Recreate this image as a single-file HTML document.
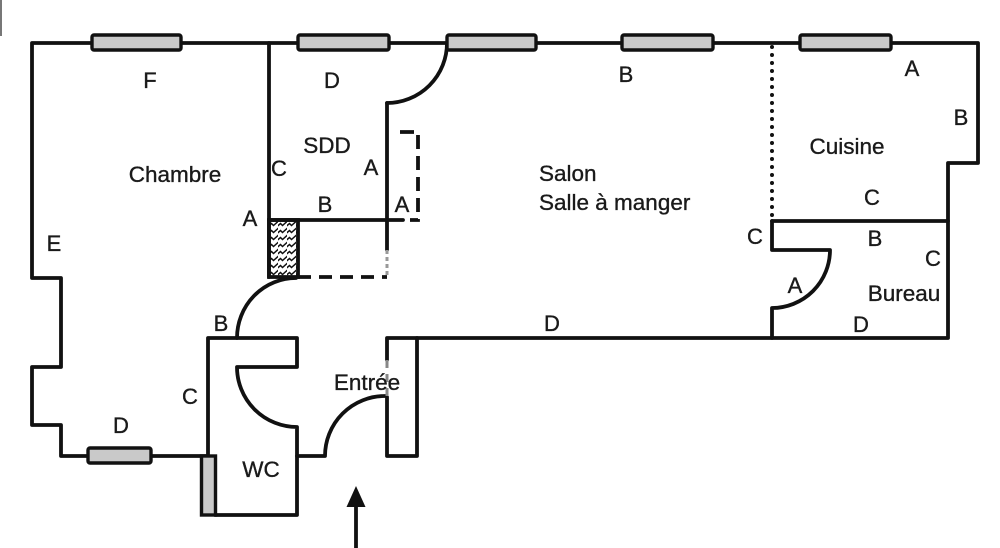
<!DOCTYPE html>
<html>
<head>
<meta charset="utf-8">
<style>
  html, body { margin:0; padding:0; background:#fff; }
  svg { display:block; }
  text { font-family: "Liberation Sans", Arial, sans-serif; fill:#1a1a1a; stroke:#1a1a1a; stroke-width:0.35; text-anchor:middle; }
</style>
</head>
<body>
<svg width="1000" height="548" viewBox="0 0 1000 548" xmlns="http://www.w3.org/2000/svg">
  <defs>
    <pattern id="hatch" x="269" y="220" width="9" height="7" patternUnits="userSpaceOnUse">
      <path d="M-1 6.5 L2.5 3.5 L4.5 5.5 L9.5 1" fill="none" stroke="#111" stroke-width="1.5"/>
    </pattern>
  </defs>
  <rect width="1000" height="548" fill="#fff"/>
  <!-- left page edge shadow -->
  <line x1="1" y1="0" x2="1" y2="36" stroke="#777" stroke-width="2"/>

  <g fill="none" stroke="#111" stroke-width="3.8" stroke-linejoin="round" stroke-linecap="round">
    <!-- outer perimeter -->
    <path d="M208 456 L61 456 L61 425 L32 425 L32 367 L61 367 L61 278 L32 278 L32 43 L978 43 L978 163 L948 163 L948 338 L387 338 L387 360"/>
    <!-- entry pillar -->
    <path d="M387 397 L387 456 L417 456 L417 338"/>
    <!-- Chambre / SDD wall -->
    <path d="M269 43 L269 277"/>
    <!-- SDD right wall -->
    <path d="M387 103 L387 250"/>
    <!-- SDD bottom wall B -->
    <path d="M269 220 L403 220"/>
    <!-- SDD door arc -->
    <path d="M447 43 A60 60 0 0 1 387 103"/>
    <!-- Chambre door arc -->
    <path d="M237 338 A59 60 0 0 1 296 278"/>
    <!-- WC -->
    <path d="M208 456 L208 338 L297 338 L297 367 L237 367 A60 60 0 0 0 297 427 L297 515 L215 515"/>
    <!-- Entry door -->
    <path d="M297 456 L325 456 A60 60 0 0 1 385 396"/>
    <!-- Bureau -->
    <path d="M772 221 L948 221"/>
    <path d="M772 221 L772 250 L830 250 A58 58 0 0 1 772 308 L772 338"/>
    <!-- arrow shaft -->
    <path d="M356 500 L356 550"/>
  </g>

  <!-- dashed bracket near SDD -->
  <path d="M400 132 L418 132 L418 220 L410 220" fill="none" stroke="#111" stroke-width="3.8" stroke-dasharray="14 7"/>
  <!-- dashed bottom of closet -->
  <path d="M298 277 L387 277" fill="none" stroke="#111" stroke-width="3.8" stroke-dasharray="13 8"/>
  <path d="M387 250 L387 277" fill="none" stroke="#999" stroke-width="3" stroke-dasharray="4 3"/>
  <path d="M387 360 L387 397" fill="none" stroke="#888" stroke-width="3" stroke-dasharray="8 6"/>

  <!-- hatched closet -->
  <rect x="269" y="220" width="29" height="57" fill="url(#hatch)" stroke="#111" stroke-width="3.8"/>

  <!-- dotted kitchen divider -->
  <path d="M772 47 L772 218" fill="none" stroke="#111" stroke-width="4" stroke-linecap="round" stroke-dasharray="0 8"/>

  <!-- windows -->
  <g fill="#c9c9c9" stroke="#111" stroke-width="3.4">
    <rect x="92" y="35" width="89" height="15" rx="2"/>
    <rect x="298" y="35" width="91" height="15" rx="2"/>
    <rect x="447" y="35" width="89" height="15" rx="2"/>
    <rect x="622" y="35" width="91" height="15" rx="2"/>
    <rect x="800" y="35" width="91" height="15" rx="2"/>
    <rect x="88" y="448" width="63" height="15" rx="2"/>
    <rect x="201.5" y="456" width="14" height="59"/>
  </g>

  <!-- arrowhead -->
  <polygon points="356,486 346.5,507 365.5,507" fill="#111"/>

  <!-- labels -->
  <g font-size="22">
    <text x="150" y="88">F</text>
    <text x="332" y="88">D</text>
    <text x="626" y="82">B</text>
    <text x="912" y="76">A</text>
    <text x="961" y="125">B</text>
    <text x="279" y="176">C</text>
    <text x="371" y="175">A</text>
    <text x="325" y="212">B</text>
    <text x="402" y="212">A</text>
    <text x="250" y="226">A</text>
    <text x="54" y="251">E</text>
    <text x="872" y="205">C</text>
    <text x="755" y="244">C</text>
    <text x="875" y="246">B</text>
    <text x="933" y="266">C</text>
    <text x="795" y="293">A</text>
    <text x="861" y="332">D</text>
    <text x="552" y="331">D</text>
    <text x="221" y="331">B</text>
    <text x="190" y="404">C</text>
    <text x="121" y="433">D</text>
  </g>
  <g font-size="22.5">
    <text x="847" y="154">Cuisine</text>
    <text x="175" y="182">Chambre</text>
    <text x="327" y="153">SDD</text>
    <text x="539" y="181" style="text-anchor:start">Salon</text>
    <text x="539" y="210" style="text-anchor:start">Salle à manger</text>
    <text x="904" y="301">Bureau</text>
    <text x="261" y="477">WC</text>
    <text x="367" y="390">Entrée</text>
  </g>
</svg>
</body>
</html>
